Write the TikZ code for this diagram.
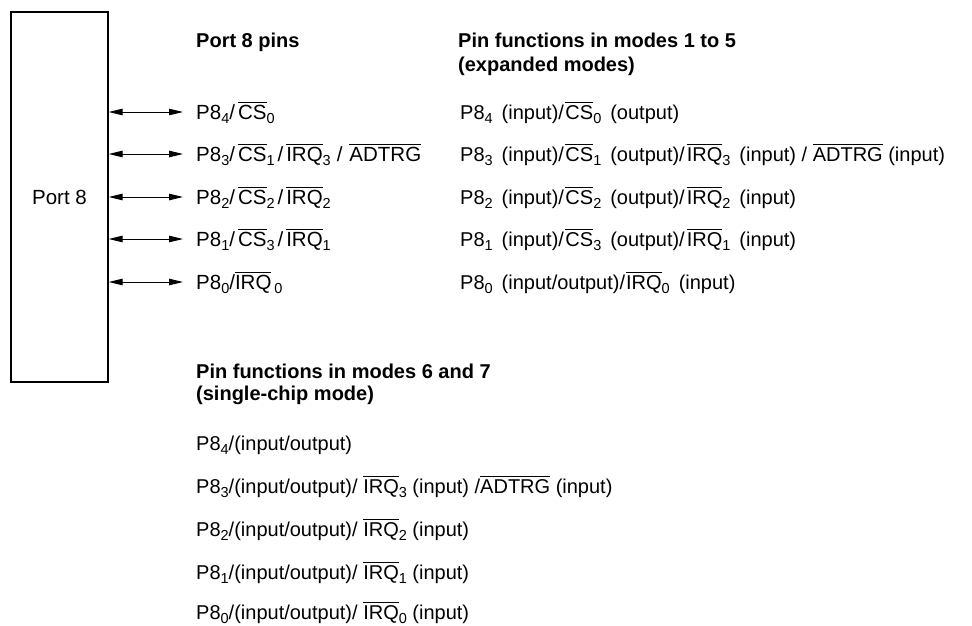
\documentclass[tikz,border=0pt]{standalone}
\usepackage{fontspec}
\setmainfont{Liberation Sans}
\usetikzlibrary{arrows.meta}
\newcommand\sbs[1]{\raisebox{-0.4ex}{\fontsize{14.5}{14.5}\selectfont #1}}
\newcommand\ovl[1]{\leavevmode\vbox{\hrule height 1pt\kern 2.4pt\hbox{#1}}}
\newcommand\gp{\kern3pt}
\newcommand\wsp{\hspace{0.45em}}
\begin{document}
\begin{tikzpicture}[x=1pt,y=-1pt,
  every node/.style={font=\fontsize{20}{24}\selectfont, inner sep=0pt},
  txt/.style={anchor=base west},
  pintxt/.style={anchor=base west, font=\fontsize{20.5}{24}\selectfont},
  head/.style={anchor=base west, font=\fontsize{20}{24}\selectfont\bfseries},
  pinarrow/.style={line width=1pt, {Triangle[length=14pt,width=6.5pt]}-{Triangle[length=14pt,width=6.5pt]}},
  portbox/.style={draw, line width=1.3pt, minimum width=97pt, minimum height=370pt, font=\fontsize{20.5}{24}\selectfont}]
\useasboundingbox (0,0) rectangle (972,626);

\node[portbox] (port) at (59.5,197) {Port 8};

% headings
\node[head] (h1) at (196,48) {Port 8 pins};
\node[head] (h2) at (458,48) {Pin functions in modes 1 to 5};
\node[head] (h3) at (458,71) {(expanded modes)};
\node[head] (h4) at (196,378) {Pin functions in modes 6 and 7};
\node[head] (h5) at (196,400) {(single-chip mode)};

% arrows
\foreach \y/\n in {112/4,154/3,197/2,239/1,282/0}{
  \coordinate (e\n) at (183,\y);
  \draw[pinarrow] (port.east |- e\n) -- (e\n);
}

% pin names
\node[pintxt] (p4) at (196,119.5) {P8\sbs{4}/\gp\ovl{CS}\sbs{0}};
\node[pintxt] (p3) at (196,161.5) {P8\sbs{3}/\gp\ovl{CS}\sbs{1}\gp/\gp\ovl{IRQ}\sbs{3}\kern6pt/\kern7pt\ovl{ADTRG}};
\node[pintxt] (p2) at (196,204.5) {P8\sbs{2}/\gp\ovl{CS}\sbs{2}\gp/\gp\ovl{IRQ}\sbs{2}};
\node[pintxt] (p1) at (196,246.5) {P8\sbs{1}/\gp\ovl{CS}\sbs{3}\gp/\gp\ovl{IRQ}\sbs{1}};
\node[pintxt] (p0) at (196,289.5) {P8\sbs{0}/\ovl{IRQ}\kern3pt\sbs{0}};

% modes 1 to 5
\node[txt] (m4) at (460,119.5) {P8\sbs{4}\wsp(input)/\kern1.5pt\ovl{CS}\sbs{0}\wsp(output)};
\node[txt] (m3) at (460,161.5) {P8\sbs{3}\wsp(input)/\kern1.5pt\ovl{CS}\sbs{1}\wsp(output)/\kern2pt\ovl{IRQ}\sbs{3}\wsp(input) / \ovl{ADTRG} (input)};
\node[txt] (m2) at (460,204.5) {P8\sbs{2}\wsp(input)/\kern1.5pt\ovl{CS}\sbs{2}\wsp(output)/\kern2pt\ovl{IRQ}\sbs{2}\wsp(input)};
\node[txt] (m1) at (460,246.5) {P8\sbs{1}\wsp(input)/\kern1.5pt\ovl{CS}\sbs{3}\wsp(output)/\kern2pt\ovl{IRQ}\sbs{1}\wsp(input)};
\node[txt] (m0) at (460,289.5) {P8\sbs{0}\wsp(input/output)/\kern1pt\ovl{IRQ}\sbs{0}\wsp(input)};

% modes 6 and 7
\node[txt] (s4) at (196,450) {P8\sbs{4}/(input/output)};
\node[txt] (s3) at (196,493) {P8\sbs{3}/(input/output)/ \ovl{IRQ}\sbs{3} (input) /\ovl{ADTRG} (input)};
\node[txt] (s2) at (196,536) {P8\sbs{2}/(input/output)/ \ovl{IRQ}\sbs{2} (input)};
\node[txt] (s1) at (196,579) {P8\sbs{1}/(input/output)/ \ovl{IRQ}\sbs{1} (input)};
\node[txt] (s0) at (196,619) {P8\sbs{0}/(input/output)/ \ovl{IRQ}\sbs{0} (input)};
\end{tikzpicture}
\end{document}
